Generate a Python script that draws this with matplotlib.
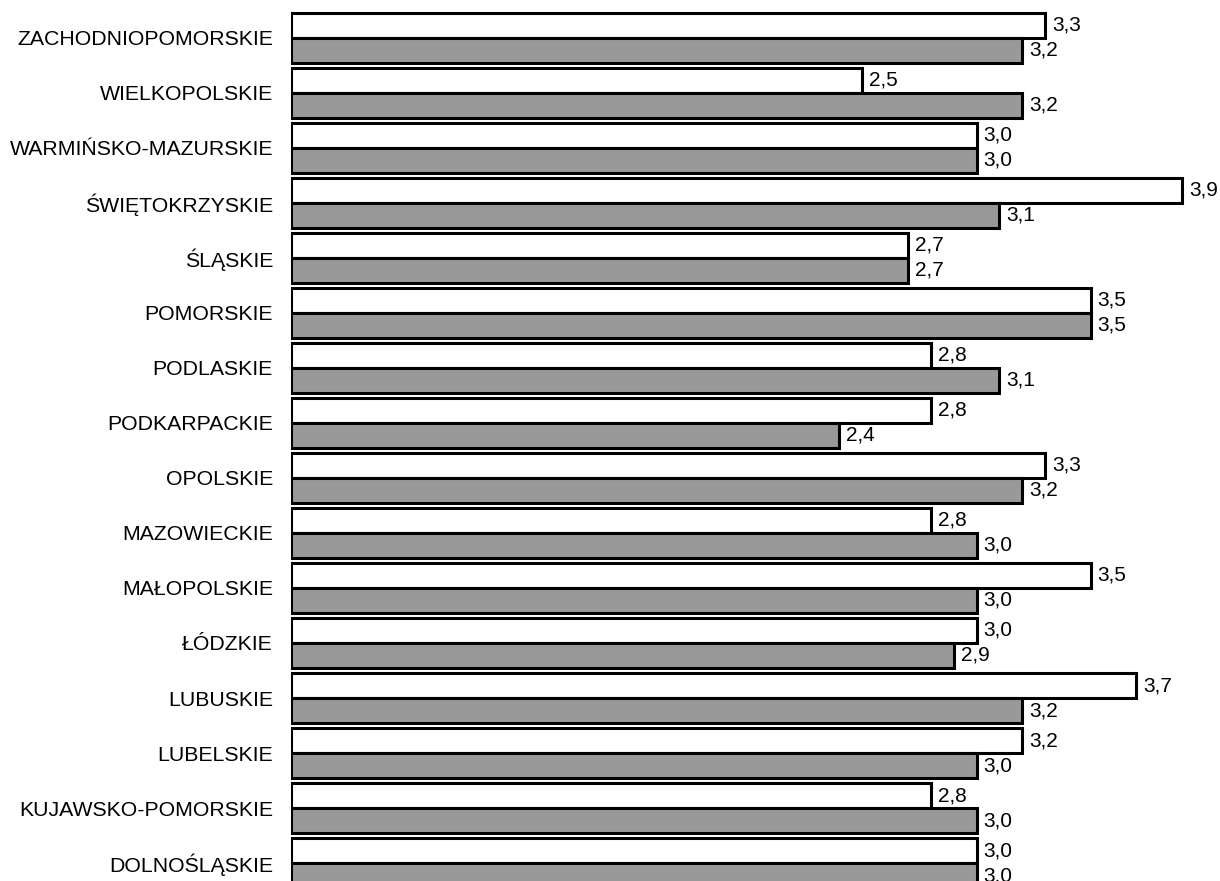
import numpy as np
import matplotlib
matplotlib.use("Agg")
import matplotlib.pyplot as plt

plt.rcParams['font.family'] = ['Liberation Sans', 'DejaVu Sans']

# regions, bottom to top as drawn
regions = ["DOLNOŚLĄSKIE", "KUJAWSKO-POMORSKIE", "LUBELSKIE", "LUBUSKIE", "ŁÓDZKIE",
           "MAŁOPOLSKIE", "MAZOWIECKIE", "OPOLSKIE", "PODKARPACKIE", "PODLASKIE",
           "POMORSKIE", "ŚLĄSKIE", "ŚWIĘTOKRZYSKIE", "WARMIŃSKO-MAZURSKIE",
           "WIELKOPOLSKIE", "ZACHODNIOPOMORSKIE"]
white_vals = [3.0, 2.8, 3.2, 3.7, 3.0, 3.5, 2.8, 3.3, 2.8, 2.8, 3.5, 2.7, 3.9, 3.0, 2.5, 3.3]
gray_vals = [3.0, 3.0, 3.0, 3.2, 2.9, 3.0, 3.0, 3.2, 2.4, 3.1, 3.5, 2.7, 3.1, 3.0, 3.2, 3.2]

fig = plt.figure(figsize=(12.2, 8.81), dpi=100)
ax = fig.add_axes([291 / 1220, 0.0, 914 / 1220, 1.0])

y = np.arange(len(regions))
h = 25 / 55

ax.barh(y + h / 2, white_vals, height=h, color="white", edgecolor="black", linewidth=2.2)
ax.barh(y - h / 2, gray_vals, height=h, color="#999999", edgecolor="black", linewidth=2.2)

def fmt(v):
    return f"{v:.1f}".replace(".", ",")

# value labels just right of each bar
for i in range(len(regions)):
    ax.annotate(fmt(white_vals[i]), (white_vals[i], y[i] + h / 2), xytext=(5, 0),
                textcoords="offset points", va="center", ha="left", fontsize=15)
    ax.annotate(fmt(gray_vals[i]), (gray_vals[i], y[i] - h / 2), xytext=(5, 0),
                textcoords="offset points", va="center", ha="left", fontsize=15)

ax.set_xlim(0, 4.0)
ax.set_ylim(-0.327, 15.69)
ax.set_yticks(y)
ax.set_yticklabels(regions, fontsize=15.3)
ax.tick_params(axis="y", length=0, pad=13)
ax.set_xticks([])
for s in ax.spines.values():
    s.set_visible(False)

fig.savefig("out.png", dpi=100)
